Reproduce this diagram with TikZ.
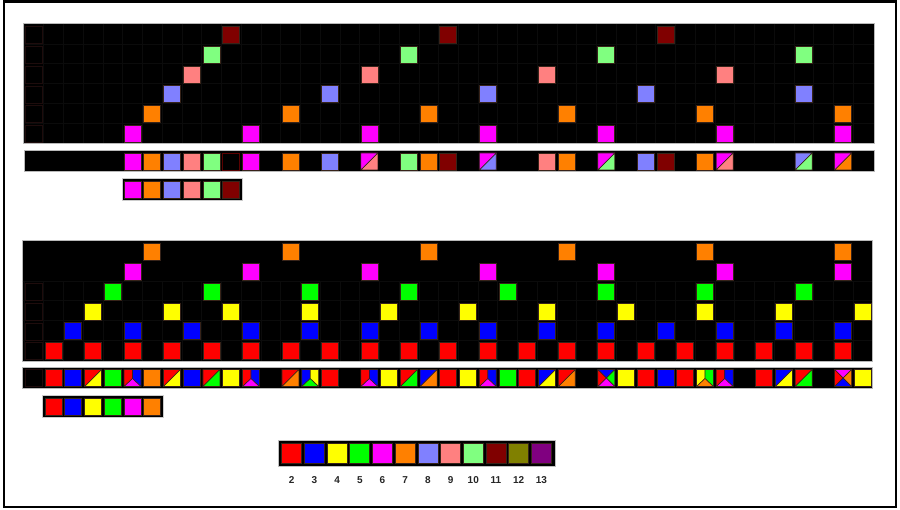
\documentclass[tikz,border=0pt]{standalone}
\usepackage{fontspec}
\setmainfont{Liberation Sans}
\definecolor{c2}{RGB}{255,0,0}
\definecolor{c3}{RGB}{0,0,255}
\definecolor{c4}{RGB}{255,255,0}
\definecolor{c5}{RGB}{0,255,0}
\definecolor{c6}{RGB}{255,0,255}
\definecolor{c7}{RGB}{255,128,0}
\definecolor{c8}{RGB}{128,128,255}
\definecolor{c9}{RGB}{255,128,128}
\definecolor{c10}{RGB}{128,255,128}
\definecolor{c11}{RGB}{128,0,0}
\definecolor{c12}{RGB}{128,128,0}
\definecolor{c13}{RGB}{128,0,128}
\definecolor{edge}{RGB}{55,35,25}
\definecolor{faint}{RGB}{11,11,11}
\definecolor{dimline}{RGB}{30,12,12}
\newcommand{\PX}[1]{\pgfmathsetmacro\px{25.3+19.74*(#1-1)}}
\newcommand{\sqc}[3]{\PX{#1}\filldraw[fill=#3,draw=edge,line width=0.7pt] (\px,#2) rectangle ++(17,17);}
\newcommand{\sqo}[3]{\PX{#1}\filldraw[fill=black,draw=#3,line width=0.8pt] (\px,#2) rectangle ++(17,17);}
\newcommand{\sqd}[4]{\PX{#1}%
  \fill[#3] (\px,#2) -- ++(17,0) -- ++(-17,17) -- cycle;
  \fill[#4] (\px+17,#2) -- ++(0,17) -- ++(-17,0) -- cycle;
  \draw[edge,line width=0.7pt] (\px,#2) rectangle ++(17,17) (\px,#2+17) -- ++(17,-17);}
\newcommand{\sqy}[5]{\PX{#1}%
  \fill[#3] (\px,#2) -- ++(8.5,0) -- ++(0,9) -- (\px,#2+17) -- cycle;
  \fill[#4] (\px+8.5,#2) -- ++(8.5,0) -- ++(0,17) -- (\px+8.5,#2+9) -- cycle;
  \fill[#5] (\px,#2+17) -- (\px+8.5,#2+9) -- (\px+17,#2+17) -- cycle;
  \draw[edge,line width=0.7pt] (\px,#2) rectangle ++(17,17) (\px+8.5,#2) -- ++(0,9) (\px,#2+17) -- (\px+8.5,#2+9) -- (\px+17,#2+17);}
\newcommand{\sqx}[6]{\PX{#1}%
  \fill[#3] (\px,#2) -- ++(17,0) -- (\px+8.5,#2+8.5) -- cycle;
  \fill[#4] (\px,#2) -- (\px+8.5,#2+8.5) -- (\px,#2+17) -- cycle;
  \fill[#5] (\px+17,#2) -- ++(0,17) -- (\px+8.5,#2+8.5) -- cycle;
  \fill[#6] (\px,#2+17) -- ++(17,0) -- (\px+8.5,#2+8.5) -- cycle;
  \draw[edge,line width=0.7pt] (\px,#2) rectangle ++(17,17) (\px,#2) -- ++(17,17) (\px+17,#2) -- ++(-17,17);}
\tikzset{
  panel/.style={fill=black,draw=gray!55,line width=0.8pt},
  numlabel/.style={font=\fontsize{10}{12}\selectfont\bfseries,text=black!85,inner sep=0pt}
}
\begin{document}
\begin{tikzpicture}[x=1pt,y=-1pt]
\useasboundingbox (0,0) rectangle (900,510);
\fill[white] (0,0) rectangle (900,510);
\draw[line width=2.6pt] (4,1.4) rectangle (895.8,507);

% ---------- top panel ----------
\draw[panel] (23.7,23.7) rectangle (874,143.7);
\foreach \n in {1,...,43}{\PX{\n}\draw[faint,line width=0.4pt] (\px-1.4,24) -- (\px-1.4,143.3);}
\foreach \j in {1,...,5}{\draw[faint,line width=0.4pt] (24,24+19.85*\j) -- (873.5,24+19.85*\j);}
\foreach \j in {0,...,5}{\PX{1}\draw[dimline,line width=0.6pt] (\px,26.3+19.85*\j) rectangle ++(17,17);}
\foreach \k/\c in {6/c6,7/c7,8/c8,9/c9,10/c10,11/c11}{
  \pgfmathsetmacro\yy{26.3+(11-\k)*19.85}
  \foreach \m in {1,...,7}{
    \pgfmathtruncatemacro\nn{\k*\m}
    \ifnum\nn<43 \sqc{\nn}{\yy}{\c}\fi
  }
}
% top strip
\draw[panel] (24,150.3) rectangle (874,171.7);
\sqc{6}{153}{c6} \sqc{7}{153}{c7} \sqc{8}{153}{c8} \sqc{9}{153}{c9} \sqc{10}{153}{c10}
\sqo{11}{153}{c11!70!black}
\sqc{12}{153}{c6} \sqc{14}{153}{c7} \sqc{16}{153}{c8} \sqd{18}{153}{c6}{c9}
\sqc{20}{153}{c10} \sqc{21}{153}{c7} \sqc{22}{153}{c11} \sqd{24}{153}{c6}{c8}
\sqc{27}{153}{c9} \sqc{28}{153}{c7} \sqd{30}{153}{c6}{c10} \sqc{32}{153}{c8}
\sqc{33}{153}{c11} \sqc{35}{153}{c7} \sqd{36}{153}{c6}{c9} \sqd{40}{153}{c8}{c10}
\sqd{42}{153}{c6}{c7}
% top key
\draw[panel,draw=gray!40] (122.3,178) rectangle (242.7,200);
\sqc{6}{181}{c6} \sqc{7}{181}{c7} \sqc{8}{181}{c8} \sqc{9}{181}{c9} \sqc{10}{181}{c10} \sqc{11}{181}{c11}

% ---------- bottom panel ----------
\draw[panel] (22,240.7) rectangle (872.7,361);
\foreach \n in {1,...,43}{\PX{\n}\draw[faint,line width=0.4pt] (\px-1.4,281) -- (\px-1.4,360.6);}
\foreach \j in {2,...,5}{\draw[faint,line width=0.4pt] (22.5,241+19.88*\j) -- (872.2,241+19.88*\j);}
\foreach \j in {2,...,5}{\PX{1}\draw[dimline,line width=0.6pt] (\px,243.3+19.88*\j) rectangle ++(17,17);}
\foreach \k/\c in {2/c2,3/c3,5/c5,6/c6,7/c7}{
  \pgfmathsetmacro\yy{243.3+(7-\k)*19.88}
  \foreach \m in {1,...,21}{
    \pgfmathtruncatemacro\nn{\k*\m}
    \ifnum\nn<43 \sqc{\nn}{\yy}{\c}\fi
  }
}
\foreach \nn in {4,8,11,15,19,23,27,31,35,39,43}{\sqc{\nn}{302.9}{c4}}
% bottom strip
\def\ys{369.5}
\draw[panel] (22,367) rectangle (872,388);
\PX{1}\draw[dimline,line width=0.6pt] (\px,\ys) rectangle ++(17,17);
\sqc{2}{\ys}{c2} \sqc{3}{\ys}{c3} \sqd{4}{\ys}{c2}{c4} \sqc{5}{\ys}{c5}
\sqy{6}{\ys}{c2}{c3}{c6} \sqc{7}{\ys}{c7} \sqd{8}{\ys}{c2}{c4} \sqc{9}{\ys}{c3}
\sqd{10}{\ys}{c2}{c5} \sqc{11}{\ys}{c4} \sqy{12}{\ys}{c2}{c3}{c6}
\sqd{14}{\ys}{c2}{c7} \sqy{15}{\ys}{c3}{c4}{c5} \sqc{16}{\ys}{c2}
\sqy{18}{\ys}{c2}{c3}{c6} \sqc{19}{\ys}{c4} \sqd{20}{\ys}{c2}{c5} \sqd{21}{\ys}{c3}{c7}
\sqc{22}{\ys}{c2} \sqc{23}{\ys}{c4} \sqy{24}{\ys}{c2}{c3}{c6} \sqc{25}{\ys}{c5}
\sqc{26}{\ys}{c2} \sqd{27}{\ys}{c3}{c4} \sqd{28}{\ys}{c2}{c7}
\sqx{30}{\ys}{c3}{c2}{c5}{c6} \sqc{31}{\ys}{c4} \sqc{32}{\ys}{c2} \sqc{33}{\ys}{c3}
\sqc{34}{\ys}{c2} \sqy{35}{\ys}{c4}{c5}{c7} \sqy{36}{\ys}{c2}{c3}{c6}
\sqc{38}{\ys}{c2} \sqd{39}{\ys}{c3}{c4} \sqd{40}{\ys}{c2}{c5}
\sqx{42}{\ys}{c6}{c2}{c7}{c3} \sqc{43}{\ys}{c4}
% bottom key
\draw[panel,draw=gray!40] (42.3,395) rectangle (163.3,417.3);
\sqc{2}{398}{c2} \sqc{3}{398}{c3} \sqc{4}{398}{c4} \sqc{5}{398}{c5} \sqc{6}{398}{c6} \sqc{7}{398}{c7}

% ---------- colour legend ----------
\draw[fill=black,draw=gray!50,line width=0.8pt] (278.3,440.7) rectangle (555.7,466);
\foreach \i in {2,...,13}{
  \pgfmathsetmacro\lx{281.7+22.7*(\i-2)}
  \filldraw[fill=c\i,draw=edge,line width=0.7pt] (\lx,443) rectangle ++(20,20.3);
  \node[numlabel] (l\i) at (\lx+10,480) {\i};
}
\end{tikzpicture}
\end{document}
